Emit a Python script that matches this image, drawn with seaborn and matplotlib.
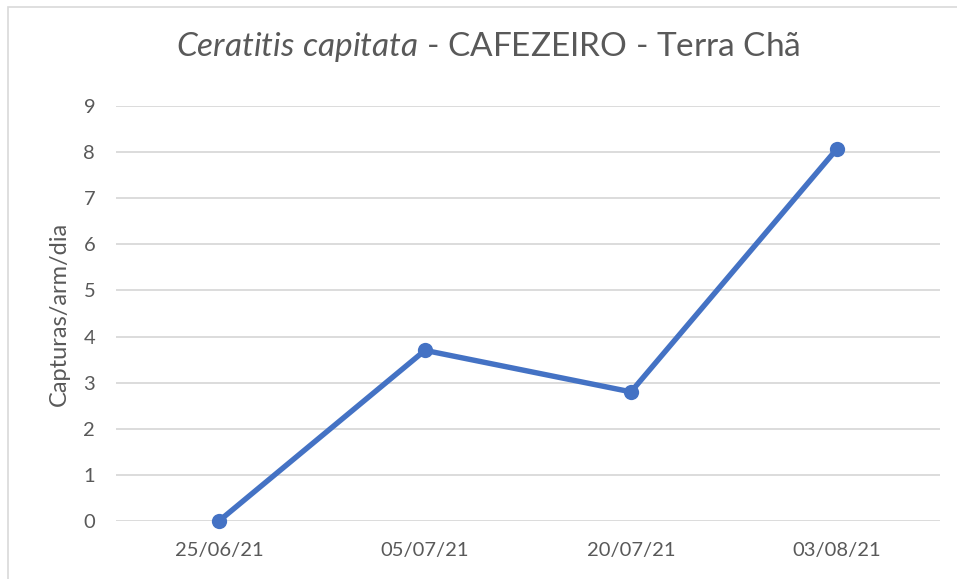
import pandas as pd
import seaborn as sns
import matplotlib.pyplot as plt
from matplotlib.patches import Rectangle

# dados
datas = ["25/06/21", "05/07/21", "20/07/21", "03/08/21"]
capturas = [0.0, 3.7, 2.8, 8.07]

df = pd.DataFrame({"data": datas, "capturas": capturas})

sns.set_style("white")
plt.rcParams["font.family"] = ["Lato", "DejaVu Sans"]
plt.rcParams["mathtext.fontset"] = "custom"
plt.rcParams["mathtext.it"] = "Lato:italic"
plt.rcParams["mathtext.rm"] = "Lato"

cinza = "#595959"
azul = "#4472C4"

fig = plt.figure(figsize=(9.57, 5.79), dpi=100)
ax = fig.add_axes([0.1212, 0.1002, 0.8610, 0.7168])

sns.lineplot(data=df, x="data", y="capturas", ax=ax, color=azul, linewidth=3.9,
             marker="o", markersize=11, markeredgewidth=0, sort=False,
             clip_on=False)

ax.set_xlim(-0.5, 3.5)
ax.set_ylim(0, 9)
ax.set_yticks(range(0, 10))
ax.grid(axis="y", color="#D9D9D9", linewidth=1.3)
ax.set_axisbelow(True)
for s in ax.spines.values():
    s.set_visible(False)
ax.tick_params(axis="both", length=0, labelsize=14.5, colors=cinza)
ax.tick_params(axis="x", pad=15)
ax.tick_params(axis="y", pad=15)
ax.set_xlabel("")
ax.set_ylabel("Capturas/arm/dia", fontsize=17, color=cinza, labelpad=10)

fig.text(0.51, 0.918, r"$\mathit{Ceratitis\ capitata}$ - CAFEZEIRO - Terra Chã",
         ha="center", va="center", fontsize=24, color=cinza)

# moldura do gráfico
fig.patches.append(Rectangle((8 / 957, -0.05), 1.2, 1 - 7 / 579 + 0.05,
                             transform=fig.transFigure, fill=False,
                             edgecolor="#D9D9D9", linewidth=1.2))

fig.savefig("out.png", dpi=100)
